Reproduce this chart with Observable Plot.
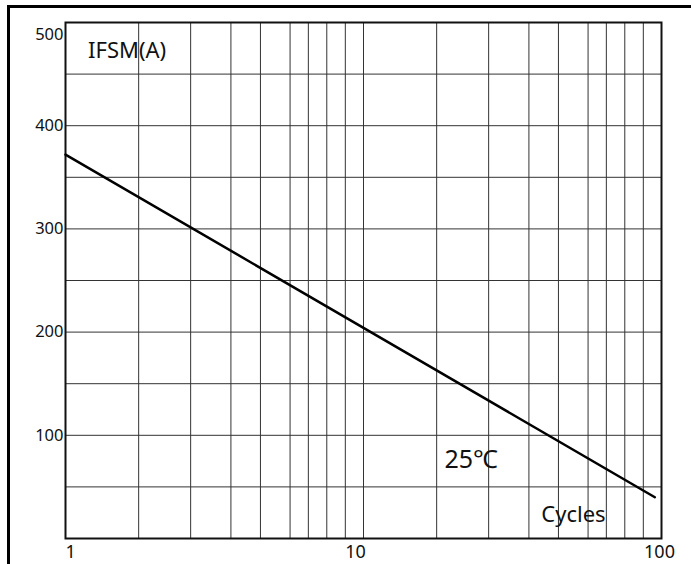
<!DOCTYPE html>
<html>
<head>
<meta charset="utf-8">
<script src="https://cdn.jsdelivr.net/npm/d3@7"></script>
<script src="https://cdn.jsdelivr.net/npm/@observablehq/plot@0.6"></script>
<style>
  html, body { margin: 0; padding: 0; background: #fff; }
  #wrap { position: relative; width: 691px; height: 564px; overflow: hidden; }
  #border { position: absolute; left: 7px; top: 5px; right: -10px; height: 556px;
            border-left: 3px solid #000; border-top: 3px solid #000; border-bottom: 1px solid #bbb; }
  #chart { position: absolute; left: 0; top: 0; }
  svg { font-family: "Noto Sans", sans-serif; }
</style>
</head>
<body>
<div id="wrap"><div id="border"></div><div id="chart"></div></div>
<script>
// Surge current vs number of cycles at 25°C
const cycles = [1, 95];
const ifsm = [372, 40];

// Vertical grid positions (cycles), as drawn in the reference grid
const gridCycles = [1.76, 2.63, 3.59, 4.51, 5.67, 6.53, 7.53, 8.69, 10,
                    17.6, 26.3, 35.9, 45.1, 56.7, 65.3, 75.3, 86.9];
const gridIfsm = [50, 100, 150, 200, 250, 300, 350, 400, 450];
const yTickLabels = [100, 200, 300, 400];
const yTopLabel = [500];

const curve = cycles.map((c, i) => ({cycles: c, ifsm: ifsm[i]}));

const annotations = [
  {text: "IFSM(A)", x: 1.19, y: 472},
  {text: "25\u2103", x: 18.7, y: 76},
  {text: "Cycles", x: 39.5, y: 23}
];

const chart = Plot.plot({
  width: 691,
  height: 564,
  marginLeft: 65,
  marginRight: 30,
  marginTop: 22,
  marginBottom: 26,
  style: {fontFamily: "'Noto Sans', sans-serif", background: "transparent"},
  x: {type: "log", domain: [1, 100]},
  y: {domain: [0, 500]},
  marks: [
    Plot.ruleX(gridCycles, {stroke: "#333", strokeWidth: 1}),
    Plot.ruleY(gridIfsm, {stroke: "#333", strokeWidth: 1}),
    Plot.frame({stroke: "#111", strokeWidth: 2}),
    Plot.axisY(yTickLabels, {tickSize: 0, tickPadding: 2, fontSize: 16.5, fill: "#111", label: null}),
    Plot.axisY(yTopLabel, {tickSize: 0, tickPadding: 2, fontSize: 16.5, fill: "#111", label: null, dy: 12}),
    Plot.axisX([1], {tickSize: 0, tickPadding: 7, fontSize: 18, fill: "#111", label: null, textAnchor: "start", dx: 0}),
    Plot.axisX([10], {tickSize: 0, tickPadding: 7, fontSize: 18, fill: "#111", label: null, dx: -8}),
    Plot.axisX([100], {tickSize: 0, tickPadding: 7, fontSize: 18, fill: "#111", label: null, dx: -2}),
    Plot.line(curve, {x: "cycles", y: "ifsm", stroke: "#000", strokeWidth: 2.5}),
    Plot.text(annotations.slice(0, 1), {x: "x", y: "y", text: "text", textAnchor: "start", fontSize: 22, fill: "#111"}),
    Plot.text(annotations.slice(1, 2), {x: "x", y: "y", text: "text", textAnchor: "start", fontSize: 25, fill: "#111"}),
    Plot.text(annotations.slice(2, 3), {x: "x", y: "y", text: "text", textAnchor: "start", fontSize: 22, fill: "#111"})
  ]
});
document.getElementById("chart").appendChild(chart);
</script>
</body>
</html>
